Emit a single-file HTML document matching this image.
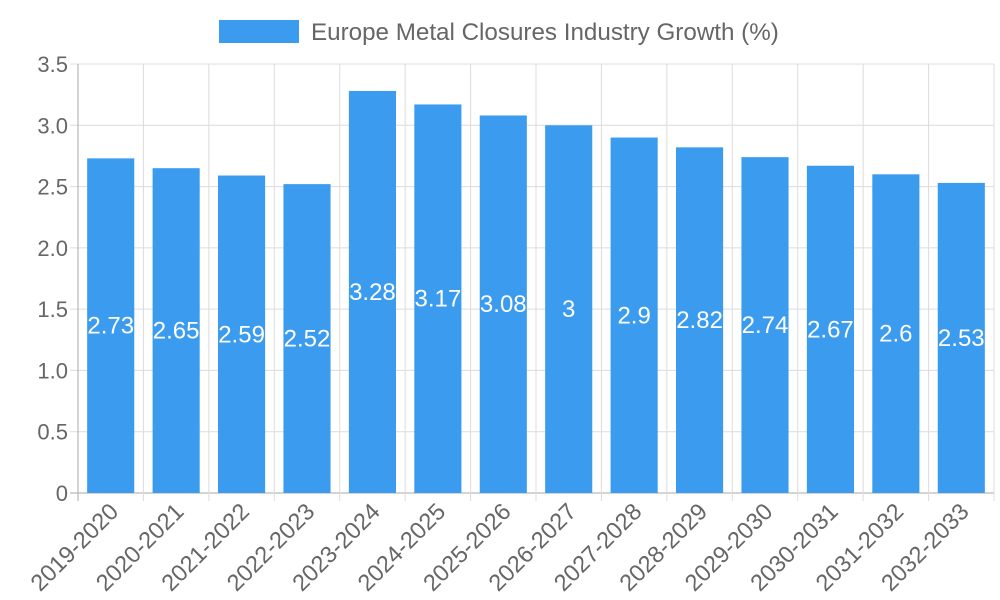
<!DOCTYPE html>
<html><head><meta charset="utf-8"><style>
body{margin:0;background:#fff;}
svg{display:block;font-family:"Liberation Sans",sans-serif;}
</style></head><body>
<svg id="chart" width="1000" height="600"></svg>
<script>
const categories=["2019-2020","2020-2021","2021-2022","2022-2023","2023-2024","2024-2025","2025-2026","2026-2027","2027-2028","2028-2029","2029-2030","2030-2031","2031-2032","2032-2033"];
const values=[2.73,2.65,2.59,2.52,3.28,3.17,3.08,3,2.9,2.82,2.74,2.67,2.6,2.53];
const valueLabels=["2.73","2.65","2.59","2.52","3.28","3.17","3.08","3","2.9","2.82","2.74","2.67","2.6","2.53"];
const yTicks=[0,0.5,1,1.5,2,2.5,3,3.5];
const yTickLabels=["0","0.5","1.0","1.5","2.0","2.5","3.0","3.5"];

const NS="http://www.w3.org/2000/svg";
const svg=document.getElementById("chart");
const L=78,R=994,T=64,B=493,yMax=3.5;
const band=(R-L)/categories.length;
const y=v=>B-(v/yMax)*(B-T);
const xc=i=>L+band*(i+0.5);
function mk(tag,attrs,parent){const e=document.createElementNS(NS,tag);for(const k in attrs)e.setAttribute(k,attrs[k]);(parent||svg).appendChild(e);return e;}

const grid=mk("g",{});


yTicks.forEach((t,i)=>{
  mk("line",{x1:L-8,x2:R,y1:y(t),y2:y(t),stroke:i===0?"#aaa":"#dcdcdc","stroke-width":1},grid);
  const tx=mk("text",{x:L-10,y:y(t)+8,"text-anchor":"end","font-size":22,fill:"#666"});
  tx.textContent=yTickLabels[i];
  
  
});
for(let i=0;i<=categories.length;i++){
  const x=L+band*i;
  mk("line",{x1:x,x2:x,y1:T,y2:B+8,stroke:i===0?"#aaa":"#dcdcdc","stroke-width":1},grid);
}
categories.forEach((c,i)=>{
  const w=band*0.72;
  const r=mk("rect",{x:xc(i)-w/2,y:y(values[i]),width:w,height:B-y(values[i]),fill:"#3a9bef"});
  
  
  const t=mk("text",{x:xc(i),y:(y(values[i])+B)/2+8,"text-anchor":"middle","font-size":24,fill:"#fff"});
  t.textContent=valueLabels[i];
  
  
  const xl=mk("text",{x:0,y:0,"text-anchor":"end","font-size":23.5,fill:"#666",transform:`translate(${xc(i)+9},${B+20}) rotate(-45)`});
  xl.textContent=c;
  
  
});
const lg=mk("g",{});


mk("rect",{x:219,y:20,width:80,height:23,fill:"#3a9bef"},lg);
const lt=mk("text",{x:311,y:40,"font-size":24.2,fill:"#666"},lg);
lt.textContent="Europe Metal Closures Industry Growth (%)";
</script>
</body></html>
